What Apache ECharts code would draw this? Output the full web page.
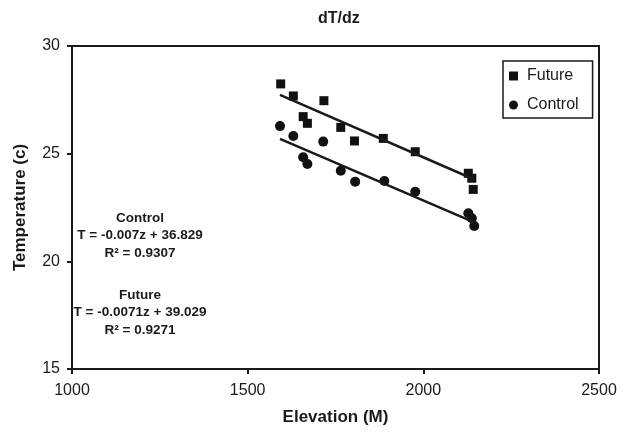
<!DOCTYPE html>
<html>
<head>
<meta charset="utf-8">
<script src="https://cdn.jsdelivr.net/npm/echarts@6/dist/echarts.min.js"></script>
<style>
  html, body { margin: 0; padding: 0; background: #fff; }
  #chart { width: 624px; height: 438px; }
</style>
</head>
<body>
<div id="chart"></div>
<script>
  // values: [elevation, temperature]
  let futurePoints = [
    [1594, 28.24], [1630, 27.68], [1658, 26.72], [1670, 26.41],
    [1717, 27.46], [1765, 26.22], [1804, 25.59], [1886, 25.71],
    [1977, 25.09], [2128, 24.09], [2138, 23.86], [2142, 23.34]
  ]
  let controlPoints = [
    [1592, 26.28], [1630, 25.82], [1658, 24.83], [1670, 24.52],
    [1715, 25.56], [1765, 24.21], [1806, 23.70], [1889, 23.73],
    [1977, 23.23], [2128, 22.23], [2138, 22.00], [2145, 21.64]
  ]
  // trend line ends as drawn
  let futureTrend = [[1592, 27.73], [2145, 23.80]]
  let controlTrend = [[1592, 25.69], [2145, 21.81]]
  let xTicks = [1000, 2500, 500]
  let yTicks = [15, 30, 5]
  let controlNote = ['Control', 'T = -0.007z + 36.829', 'R² = 0.9307']
  let futureNote = ['Future', 'T = -0.0071z + 39.029', 'R² = 0.9271']

  let ink = '#1a1a1a'
  let font = 'Liberation Sans, Arial, sans-serif'

  let chart = echarts.init(document.getElementById('chart'))

  let noteText = function (lines, top) {
    return lines.map((t, i) => {
      return {
        type: 'text',
        x: 140,
        y: top + i * 17.5,
        style: {
          text: t,
          align: 'center',
          verticalAlign: 'middle',
          fill: ink,
          font: 'bold 13.5px ' + font
        }
      }
    })
  }

  let options = {
    animation: false,
    title: {
      text: 'dT/dz',
      left: 313,
      top: 6,
      textStyle: { fontFamily: font, fontSize: 16, fontWeight: 'bold', color: ink }
    },
    legend: {
      orient: 'vertical',
      left: 503,
      top: 61,
      width: 88,
      padding: [7, 14, 5, 6],
      itemGap: 13,
      itemWidth: 9,
      itemHeight: 9,
      borderColor: ink,
      borderWidth: 1.5,
      textStyle: { fontFamily: font, fontSize: 16, color: ink, padding: [0, 0, 0, 4] },
      data: [
        { name: 'Future', icon: 'rect' },
        { name: 'Control', icon: 'circle' }
      ]
    },
    grid: {
      left: 72,
      right: 25,
      top: 46,
      bottom: 69,
      show: true,
      borderColor: ink,
      borderWidth: 2
    },
    xAxis: {
      type: 'value',
      min: xTicks[0],
      max: xTicks[1],
      interval: xTicks[2],
      name: 'Elevation (M)',
      nameLocation: 'middle',
      nameGap: 40,
      nameTextStyle: { fontFamily: font, fontSize: 17, fontWeight: 'bold', color: ink },
      axisLine: { lineStyle: { color: ink, width: 2 } },
      axisTick: { show: true, length: 5, lineStyle: { color: ink, width: 2 } },
      axisLabel: {
        margin: 14, fontFamily: font, fontSize: 16, color: ink,
        formatter: (v) => String(v)
      },
      splitLine: { show: false }
    },
    yAxis: {
      type: 'value',
      min: yTicks[0],
      max: yTicks[1],
      interval: yTicks[2],
      name: 'Temperature (c)',
      nameLocation: 'middle',
      nameGap: 43,
      nameTextStyle: { fontFamily: font, fontSize: 17, fontWeight: 'bold', color: ink },
      axisLine: { show: true, lineStyle: { color: ink, width: 2 } },
      axisTick: { show: true, length: 5, lineStyle: { color: ink, width: 2 } },
      axisLabel: { margin: 12, fontFamily: font, fontSize: 16, color: ink },
      splitLine: { show: false }
    },
    series: [
      {
        name: 'Future',
        type: 'scatter',
        symbol: 'rect',
        symbolSize: 9,
        itemStyle: { color: '#111', opacity: 1 },
        data: futurePoints
      },
      {
        name: 'Control',
        type: 'scatter',
        symbol: 'circle',
        symbolSize: 10,
        itemStyle: { color: '#111', opacity: 1 },
        data: controlPoints
      },
      {
        name: 'futureTrend',
        type: 'line',
        symbol: 'none',
        lineStyle: { color: ink, width: 2.5 },
        data: futureTrend
      },
      {
        name: 'controlTrend',
        type: 'line',
        symbol: 'none',
        lineStyle: { color: ink, width: 2.5 },
        data: controlTrend
      }
    ],
    graphic: noteText(controlNote, 218).concat(noteText(futureNote, 295))
  }
  chart.setOption(options)
</script>
</body>
</html>
